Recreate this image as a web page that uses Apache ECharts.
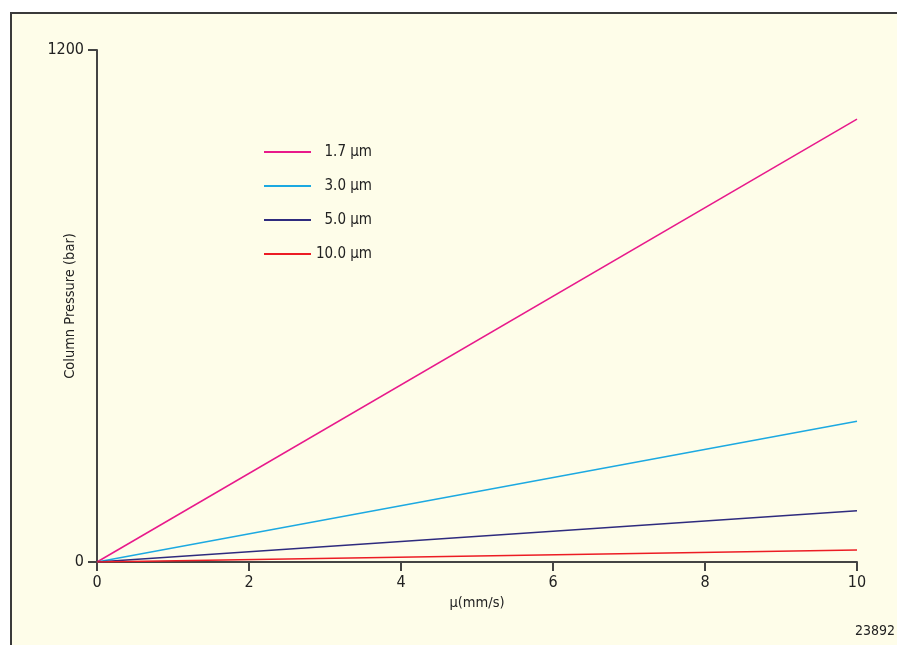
<!DOCTYPE html>
<html>
<head>
<meta charset="utf-8">
<script src="https://cdn.jsdelivr.net/npm/echarts@6/dist/echarts.min.js"></script>
<style>
html,body{margin:0;padding:0;background:#ffffff;width:897px;height:645px;overflow:hidden;}
#frame{position:absolute;left:10px;top:12px;width:900px;height:650px;background:#fefde9;border-left:2px solid #3a3a3a;border-top:2px solid #3a3a3a;box-sizing:border-box;}
#chart{position:absolute;left:0;top:0;width:897px;height:645px;}
</style>
</head>
<body>
<div id="frame"></div>
<div id="chart"></div>
<script>
var velocity = [0, 10];
var seriesNames = ['1.7 \u00b5m', '3.0 \u00b5m', '5.0 \u00b5m', '10.0 \u00b5m'];
var pressure17 = [0, 1038];
var pressure30 = [0, 330];
var pressure50 = [0, 120];
var pressure100 = [0, 28];
var xTicks = [0, 2, 4, 6, 8, 10];
var yTicks = [0, 1200];
var colors = ['#e8198b', '#1ca9e1', '#2e2b7e', '#ec1c24'];

var allValues = [pressure17, pressure30, pressure50, pressure100];
var FONT = '"Liberation Sans Narrow", "DejaVu Sans Condensed", sans-serif';

function pairs(ys) { return velocity.map(function (x, i) { return [x, ys[i]]; }); }

var chart = echarts.init(document.getElementById('chart'), null, {renderer: 'canvas'});
chart.setOption({
  backgroundColor: 'transparent',
  animation: false,
  grid: {left: 97, right: 40, top: 50, bottom: 83},
  legend: {
    orient: 'vertical',
    left: 264, top: 142,
    padding: 0,
    itemWidth: 47, itemHeight: 2, itemGap: 14,
    icon: 'rect',
    data: seriesNames,
    formatter: function (n) { return '{a|' + n + '}'; },
    textStyle: {
      color: '#222', fontFamily: FONT, fontSize: 15,
      rich: {a: {width: 56, height: 20, lineHeight: 20, align: 'right', fontFamily: FONT, fontSize: 15, color: '#222'}}
    }
  },
  xAxis: {
    type: 'value', min: xTicks[0], max: xTicks[xTicks.length - 1], interval: 2,
    name: '\u00b5(mm/s)', nameLocation: 'middle', nameGap: 34,
    nameMoveOverlap: false,
    nameTextStyle: {color: '#222', fontFamily: FONT, fontSize: 14.5},
    axisLine: {show: true, lineStyle: {color: '#444', width: 2}},
    axisTick: {show: true, length: 9, lineStyle: {color: '#444', width: 2}},
    axisLabel: {color: '#222', fontFamily: FONT, fontSize: 16, margin: 13},
    splitLine: {show: false}
  },
  yAxis: {
    type: 'value', min: yTicks[0], max: yTicks[1], interval: 1200,
    name: 'Column Pressure (bar)', nameLocation: 'middle', nameGap: 19,
    nameMoveOverlap: false,
    nameTextStyle: {color: '#222', fontFamily: FONT, fontSize: 14.5},
    axisLine: {show: true, lineStyle: {color: '#444', width: 2}},
    axisTick: {show: true, length: 9, lineStyle: {color: '#444', width: 2}},
    axisLabel: {color: '#222', fontFamily: FONT, fontSize: 16, margin: 13,
      formatter: function (v) { return String(v); }},
    splitLine: {show: false}
  },
  graphic: [{
    type: 'text', right: 2, top: 624,
    style: {text: '23892', fill: '#222', font: '14px ' + FONT}
  }],
  series: seriesNames.map(function (n, i) {
    return {
      name: n, type: 'line', data: pairs(allValues[i]),
      symbol: 'none', lineStyle: {color: colors[i], width: 1.5},
      itemStyle: {color: colors[i]}, z: 3
    };
  })
});
</script>
</body>
</html>
